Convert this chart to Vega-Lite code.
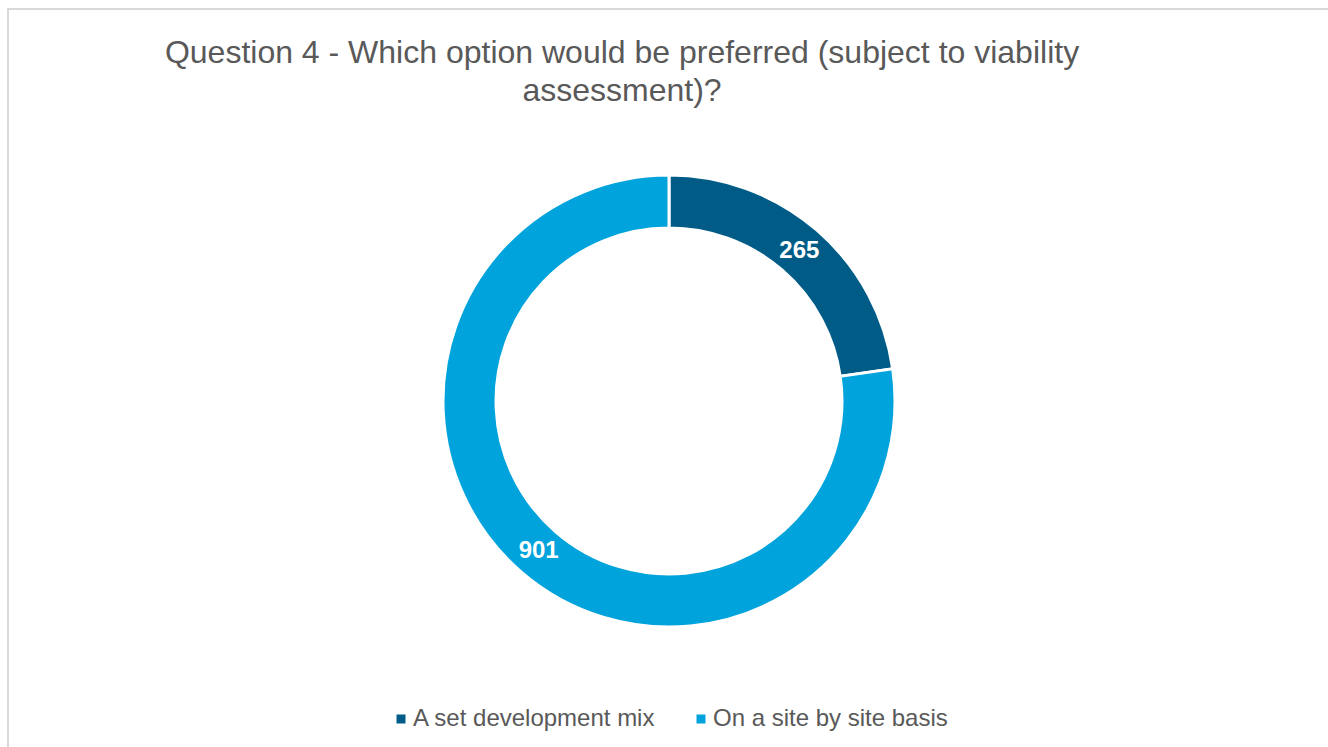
{
  "$schema": "https://vega.github.io/schema/vega-lite/v6.json",
  "autosize": "none",
  "padding": {"left": 8, "top": 9, "right": 0, "bottom": 0},
  "width": 1322,
  "height": 784,
  "background": "white",
  "config": {
    "view": {"stroke": null},
    "font": "Liberation Sans"
  },
  "title": {
    "text": ["Question 4 - Which option would be preferred (subject to viability", "assessment)?"],
    "anchor": "middle",
    "frame": "group",
    "orient": "top",
    "offset": -100,
    "dx": -47,
    "fontSize": 32,
    "fontWeight": "normal",
    "color": "#595959",
    "lineHeight": 38,
    "font": "Liberation Sans"
  },
  "data": {
    "values": [
      {"category": "A set development mix", "value": 265},
      {"category": "On a site by site basis", "value": 901}
    ]
  },
  "layer": [
    {
      "data": {"values": [{"frame": 1}]},
      "mark": {"type": "rect", "fill": null, "stroke": "#d9d9d9", "strokeWidth": 2},
      "encoding": {}
    },
    {
      "mark": {"type": "arc", "innerRadius": 173, "outerRadius": 226, "stroke": "white", "strokeWidth": 3},
      "encoding": {
        "theta": {"field": "value", "type": "quantitative", "stack": true},
        "color": {
          "field": "category",
          "type": "nominal",
          "scale": {"domain": ["A set development mix", "On a site by site basis"], "range": ["#005C87", "#00A3DB"]},
          "legend": {
            "title": null,
            "orient": "none",
            "direction": "horizontal",
            "legendX": 381,
            "legendY": 698,
            "symbolType": "square",
            "symbolSize": 81,
            "symbolStrokeWidth": 0,
            "labelFontSize": 24,
            "labelColor": "#595959",
            "labelFont": "Liberation Sans",
            "labelLimit": 0,
            "columnPadding": 33,
            "labelOffset": 0
          }
        }
      }
    },
    {
      "mark": {"type": "text", "radius": 199, "fontSize": 24, "fontWeight": "bold", "fill": "white", "font": "Liberation Sans"},
      "encoding": {
        "theta": {"field": "value", "type": "quantitative", "stack": true},
        "text": {"field": "value", "type": "quantitative"},
        "detail": {"field": "category", "type": "nominal"}
      }
    }
  ]
}
